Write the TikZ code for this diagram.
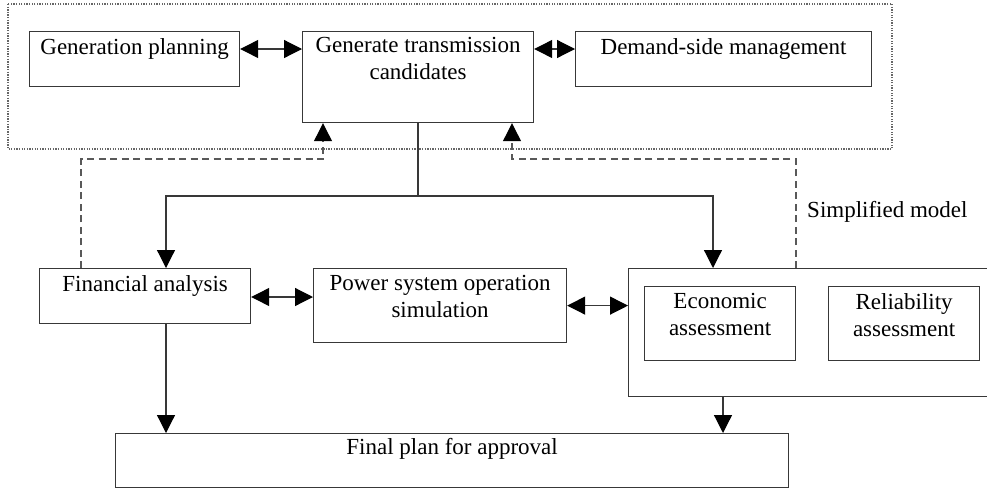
\documentclass[tikz,border=0pt]{standalone}
\usepackage{fontspec}
\setmainfont{Liberation Serif}
\usetikzlibrary{arrows.meta}
\begin{document}
\begin{tikzpicture}[x=1pt,y=-1pt,
  linecol/.style={color=black!78},
  box/.style={draw, linecol, line width=1.2pt, inner sep=0pt, anchor=north west},
  txt/.style={font=\fontsize{23}{27}\selectfont, align=center, inner sep=0pt, anchor=north, text=black},
  arr/.style={linecol, line width=1.2pt, -{Triangle[length=18pt,width=18pt,color=black]}},
  dbl/.style={linecol, line width=1.2pt, {Triangle[length=18pt,width=18pt,color=black]}-{Triangle[length=18pt,width=18pt,color=black]}},
  dsh/.style={black!65, line width=1.2pt, dash pattern=on 7pt off 4.5pt, -{Triangle[length=18pt,width=18pt,color=black]}},
  grp/.style={draw, black!60, line width=1.2pt, dash pattern=on 1.3pt off 1.3pt}
]
\clip (0,0) rectangle (987,488);
\fill[white] (0,0) rectangle (987,488);

% planning group (dotted frame)
\draw[grp] (8,4) rectangle (892,149);

% boxes
\node[box, minimum width=210pt, minimum height=55pt] (gen) at (29,31) {};
\node[box, minimum width=231pt, minimum height=91pt] (cand) at (302,31) {};
\node[box, minimum width=296pt, minimum height=55pt] (dsm) at (575,31) {};
\node[box, minimum width=211pt, minimum height=55pt] (fin) at (39,268) {};
\node[box, minimum width=253pt, minimum height=74pt] (psos) at (313,268) {};
\node[box, minimum width=380pt, minimum height=128pt] (sim) at (628,268) {};
\node[box, minimum width=151pt, minimum height=74pt] (eco) at (644,286) {};
\node[box, minimum width=151pt, minimum height=74pt] (rel) at (828,286) {};
\node[box, minimum width=673pt, minimum height=54pt] (final) at (115,433) {};

% box texts
\node[txt] (gen-t) at ([yshift=-7pt]gen.north) {Generation planning};
\node[txt] (cand-t) at ([yshift=-6pt]cand.north) {Generate transmission\\candidates};
\node[txt] (dsm-t) at ([yshift=-7pt]dsm.north) {Demand-side management};
\node[txt] (fin-t) at ([yshift=-7.5pt]fin.north) {Financial analysis};
\node[txt] (psos-t) at ([yshift=-7pt]psos.north) {Power system operation\\simulation};
\node[txt] (eco-t) at ([yshift=-7pt]eco.north) {Economic\\assessment};
\node[txt] (rel-t) at ([yshift=-7pt]rel.north) {Reliability\\assessment};
\node[txt] (final-t) at ([yshift=-5.5pt]final.north) {Final plan for approval};
\node[txt, anchor=base west] (simp) at (807,217) {Simplified model};

% helper coordinates for connector routes
\coordinate (row1) at (0,49);
\coordinate (row2) at (0,297);
\coordinate (split) at (418,196);
\coordinate (xa) at (166,0);
\coordinate (xb) at (713,0);
\coordinate (xc) at (723,0);
\coordinate (fbl) at (81,159);
\coordinate (fbr) at (796,159);
\coordinate (xl) at (323,0);
\coordinate (xr) at (512,0);

% two-way links
\draw[dbl] (gen.east |- row1) -- (cand.west |- row1);
\draw[dbl] (cand.east |- row1) -- (dsm.west |- row1);
\draw[dbl] (fin.east |- row2) -- (psos.west |- row2);
\draw[dbl] (psos.east) -- (sim.west |- psos.east);

% candidates fan out to the evaluations
\draw[linecol, line width=1.2pt] (cand.south -| split) -- (split);
\draw[arr] (split) -| (fin.north -| xa);
\draw[arr] (split) -| (sim.north -| xb);

% results to the final plan
\draw[arr] (fin.south -| xa) -- (final.north -| xa);
\draw[arr] (sim.south -| xc) -- (final.north -| xc);

% feedback loops
\draw[dsh] (fin.north -| fbl) -- (fbl) -| (cand.south -| xl);
\draw[dsh] (sim.north -| fbr) -- (fbr) -| (cand.south -| xr);
\end{tikzpicture}
\end{document}
